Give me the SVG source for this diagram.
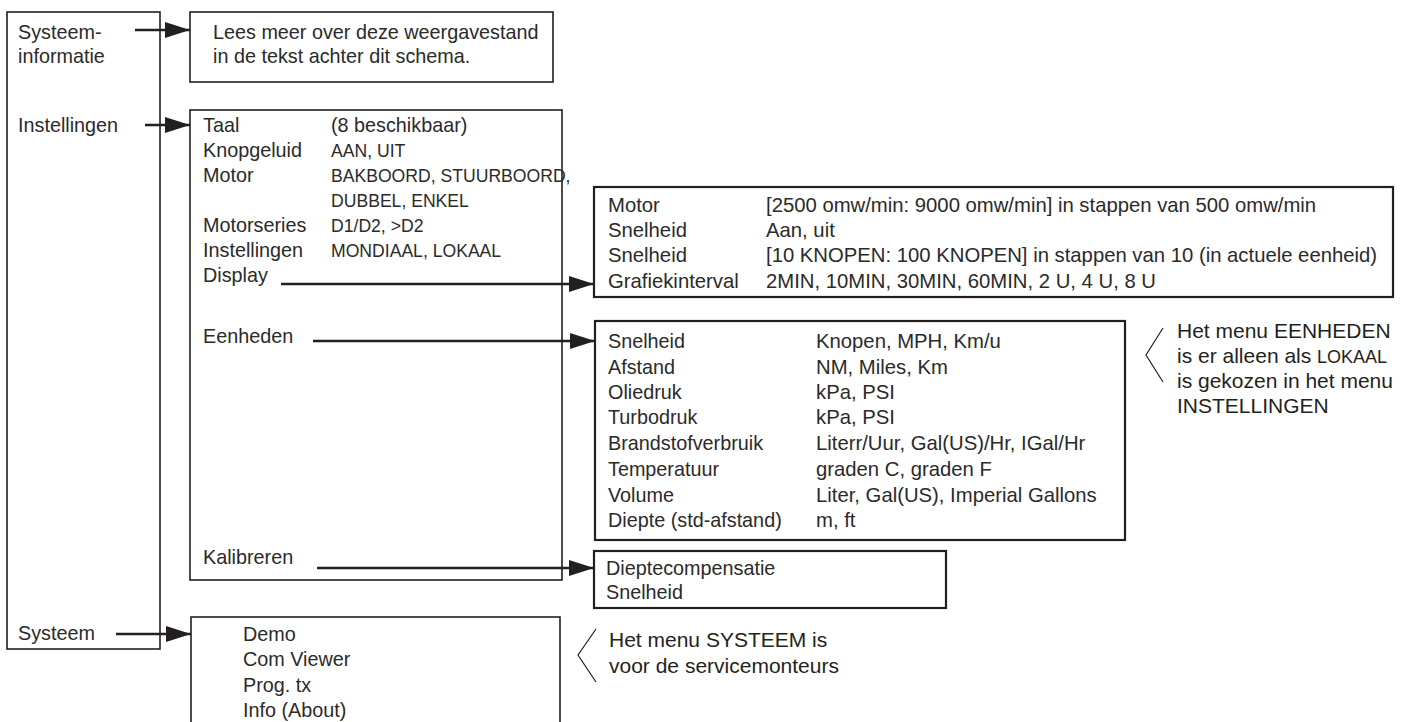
<svg xmlns="http://www.w3.org/2000/svg" width="1411" height="722" viewBox="0 0 1411 722">
<style>
.bx{fill:#fff;stroke:#231f20;stroke-width:1.6}
.bx2{fill:#fff;stroke:#231f20;stroke-width:2.2}
.t{font-family:"Liberation Sans",Arial,sans-serif;font-size:19.8px;fill:#2b2a2a}
.v{font-family:"Liberation Sans",Arial,sans-serif;font-size:20.3px;fill:#2b2a2a}
.s{font-family:"Liberation Sans",Arial,sans-serif;font-size:17.6px;fill:#2b2a2a}
.n{font-family:"Liberation Sans",Arial,sans-serif;font-size:21px;fill:#231f20}
.c{stroke:#231f20;stroke-width:2.6;fill:none}
.tri{fill:#fff;stroke:#231f20;stroke-width:1.2}
</style>
<defs>
<marker id="ah" viewBox="0 0 25 16" refX="25" refY="8" markerWidth="25" markerHeight="16" markerUnits="userSpaceOnUse" orient="auto">
<path d="M0,0 L25,8 L0,16 Z" fill="#231f20"/>
</marker>
</defs>
<g id="main-menu">
<rect class="bx" x="7" y="12" width="153" height="637"/>
<text class="t" x="18" y="39">Systeem-</text>
<text class="t" x="18" y="63">informatie</text>
<text class="t" x="18" y="132">Instellingen</text>
<text class="t" x="18" y="640">Systeem</text>
</g>
<g id="info-box">
<rect class="bx" x="190" y="12" width="363" height="70"/>
<text class="t" x="213" y="39">Lees meer over deze weergavestand</text>
<text class="t" x="213" y="63">in de tekst achter dit schema.</text>
</g>
<g id="settings-box">
<rect class="bx" x="190" y="110" width="372" height="470"/>
<text class="t" x="203" y="132">Taal</text>
<text class="t" x="331" y="132">(8 beschikbaar)</text>
<text class="t" x="203" y="157">Knopgeluid</text>
<text class="s" x="331" y="157">AAN, UIT</text>
<text class="t" x="203" y="182">Motor</text>
<text class="s" x="331" y="182">BAKBOORD, STUURBOORD,</text>
<text class="s" x="331" y="207">DUBBEL, ENKEL</text>
<text class="t" x="203" y="232">Motorseries</text>
<text class="s" x="331" y="232">D1/D2, &gt;D2</text>
<text class="t" x="203" y="257">Instellingen</text>
<text class="s" x="331" y="257">MONDIAAL, LOKAAL</text>
<text class="t" x="203" y="282">Display</text>
<text class="t" x="203" y="343">Eenheden</text>
<text class="t" x="203" y="564">Kalibreren</text>
</g>
<g id="display-box">
<rect class="bx2" x="594" y="187" width="799" height="110"/>
<text class="v" x="608" y="212">Motor</text>
<text class="v" x="766" y="212">[2500 omw/min: 9000 omw/min] in stappen van 500 omw/min</text>
<text class="v" x="608" y="237">Snelheid</text>
<text class="v" x="766" y="237">Aan, uit</text>
<text class="v" x="608" y="262">Snelheid</text>
<text class="v" x="766" y="262">[10 KNOPEN: 100 KNOPEN] in stappen van 10 (in actuele eenheid)</text>
<text class="v" x="608" y="288">Grafiekinterval</text>
<text class="v" x="766" y="288">2MIN, 10MIN, 30MIN, 60MIN, 2 U, 4 U, 8 U</text>
</g>
<g id="units-box">
<rect class="bx2" x="595" y="321" width="530" height="219"/>
<text class="t" x="608" y="348">Snelheid</text>
<text class="v" x="816" y="348">Knopen, MPH, Km/u</text>
<text class="t" x="608" y="374">Afstand</text>
<text class="v" x="816" y="374">NM, Miles, Km</text>
<text class="t" x="608" y="399">Oliedruk</text>
<text class="v" x="816" y="399">kPa, PSI</text>
<text class="t" x="608" y="424">Turbodruk</text>
<text class="v" x="816" y="424">kPa, PSI</text>
<text class="t" x="608" y="450">Brandstofverbruik</text>
<text class="v" x="816" y="450">Literr/Uur, Gal(US)/Hr, IGal/Hr</text>
<text class="t" x="608" y="476">Temperatuur</text>
<text class="v" x="816" y="476">graden C, graden F</text>
<text class="t" x="608" y="502">Volume</text>
<text class="v" x="816" y="502">Liter, Gal(US), Imperial Gallons</text>
<text class="t" x="608" y="527">Diepte (std-afstand)</text>
<text class="v" x="816" y="527">m, ft</text>
</g>
<g id="units-note">
<path class="tri" d="M1163,328 L1146,355 L1163,382"/>
<text class="n" x="1177" y="338">Het menu EENHEDEN</text>
<text class="n" x="1177" y="363">is er alleen als <tspan font-size="18px">LOKAAL</tspan></text>
<text class="n" x="1177" y="388">is gekozen in het menu</text>
<text class="n" x="1177" y="413">INSTELLINGEN</text>
</g>
<g id="calibrate-box">
<rect class="bx2" x="594" y="551" width="352" height="57"/>
<text class="t" x="606" y="575">Dieptecompensatie</text>
<text class="t" x="606" y="599">Snelheid</text>
</g>
<g id="system-box">
<rect class="bx" x="191" y="617" width="369" height="110"/>
<text class="t" x="243" y="641">Demo</text>
<text class="t" x="243" y="666">Com Viewer</text>
<text class="t" x="243" y="692">Prog. tx</text>
<text class="t" x="243" y="717">Info (About)</text>
</g>
<g id="system-note">
<path class="tri" d="M596,629 L578,655 L596,682"/>
<text class="n" x="609" y="647">Het menu SYSTEEM is</text>
<text class="n" x="609" y="673">voor de servicemonteurs</text>
</g>
<g id="connectors">
<line class="c" x1="135" y1="30" x2="190" y2="30" marker-end="url(#ah)"/>
<line class="c" x1="145" y1="125" x2="190" y2="125" marker-end="url(#ah)"/>
<line class="c" x1="281" y1="284" x2="594" y2="284" marker-end="url(#ah)"/>
<line class="c" x1="313" y1="341" x2="595" y2="341" marker-end="url(#ah)"/>
<line class="c" x1="317" y1="568" x2="594" y2="568" marker-end="url(#ah)"/>
<line class="c" x1="116" y1="634" x2="191" y2="634" marker-end="url(#ah)"/>
</g>
</svg>
